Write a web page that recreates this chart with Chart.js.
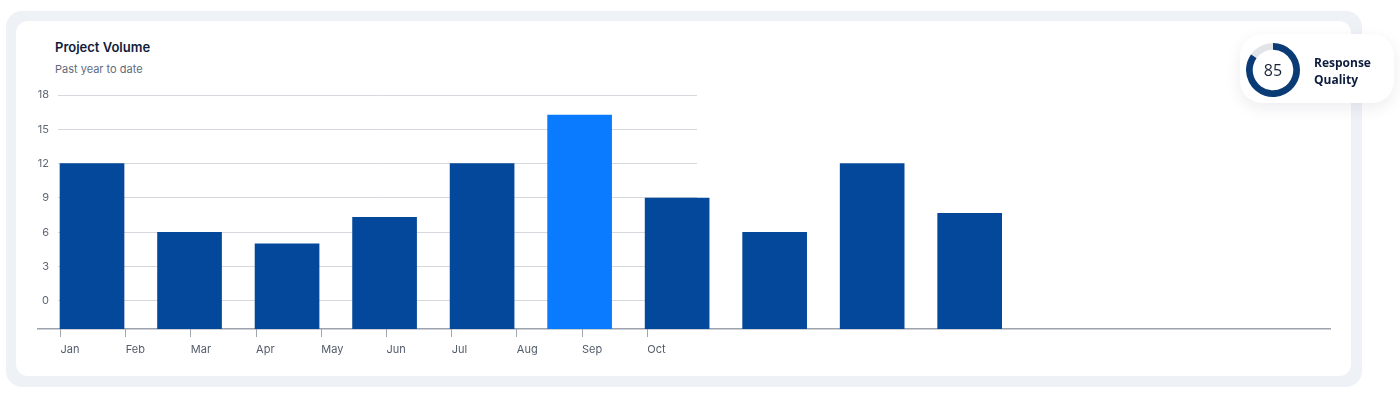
<!DOCTYPE html>
<html>
<head>
<meta charset="utf-8">
<script src="https://cdn.jsdelivr.net/npm/chart.js@4.4.1/dist/chart.umd.min.js"></script>
<style>
  html, body { margin: 0; padding: 0; background: #fff; width: 1400px; height: 402px; overflow: hidden; }
  .outer { position: absolute; left: 6px; top: 11px; width: 1356px; height: 376px; background: #eef1f6; border-radius: 16px; }
  .inner { position: absolute; left: 16px; top: 21px; width: 1335px; height: 355px; background: #fff; border-radius: 12px; }
  .title { position: absolute; left: 55px; top: 39px; font: 600 13px Inter, sans-serif; color: #0f1d3a; }
  .subtitle { position: absolute; left: 55px; top: 62px; font: 400 11px Inter, sans-serif; color: #5f6b7c; }
  .layer { position: absolute; left: 0; top: 0; height: 402px; }
  .badge { position: absolute; left: 1240px; top: 34px; width: 154px; height: 69px; background: #fff; border-radius: 22px; box-shadow: 0 5px 16px rgba(20, 30, 60, 0.08); }
  .donut { position: absolute; left: 1246px; top: 43px; width: 54px; height: 54px; }
  .score { position: absolute; left: 1246px; top: 43px; width: 54px; text-align: center; font: 400 16px/54px "Open Sans", sans-serif; color: #1b2437; }
  .label { position: absolute; left: 1314px; top: 54px; font: 700 12px/17px "Open Sans", sans-serif; color: #0d1b3e; }
</style>
</head>
<body>
<div class="outer"></div>
<div class="inner"></div>
<div class="title">Project Volume</div>
<div class="subtitle">Past year to date</div>
<div class="layer" style="width:700px"><canvas id="grid"></canvas></div>
<div class="layer" style="width:1400px"><canvas id="bars"></canvas></div>
<div class="badge"></div>
<div class="donut"><canvas id="quality"></canvas></div>
<div class="score">85</div>
<div class="label">Response<br>Quality</div>
<script>
const months = ['Jan', 'Feb', 'Mar', 'Apr', 'May', 'Jun', 'Jul', 'Aug', 'Sep', 'Oct'];
const volumes = [12, 6, 5, 7.3, 12, 16.25, 9, 6, 12, 7.65];
const yTicks = [0, 3, 6, 9, 12, 15, 18];
const highlightIndex = 5;
const qualityScore = 85;

const Y_MIN = -2.45;
const Y_MAX = 18;

Chart.defaults.animation = false;
Chart.defaults.font.family = 'Inter, sans-serif';

// grid + axis labels layer (narrow, sits under the bars)
new Chart(document.getElementById('grid'), {
    type: 'line',
    data: { datasets: [] },
    options: {
        responsive: true,
        maintainAspectRatio: false,
        layout: { padding: { left: 0, right: 3, top: 95, bottom: 0 } },
        plugins: { legend: { display: false }, tooltip: { enabled: false } },
        scales: {
            x: {
                type: 'linear',
                offset: false,
                min: -0.038,
                max: 9.763,
                afterBuildTicks: s => { s.ticks = months.map((m, i) => ({ value: i })); },
                afterFit: s => { s.height = 73; },
                ticks: {
                    align: 'start',
                    autoSkip: false,
                    maxRotation: 0,
                    padding: 6,
                    color: '#525c6a',
                    font: { size: 11 },
                    callback: v => months[v]
                },
                grid: { offset: false, drawOnChartArea: false, drawTicks: true, tickLength: 8, tickColor: '#a3a8b0', tickWidth: 1 },
                border: { display: false }
            },
            y: {
                min: Y_MIN,
                max: Y_MAX,
                afterBuildTicks: s => { s.ticks = yTicks.map(v => ({ value: v })); },
                afterFit: s => { s.width = 58; },
                ticks: { padding: 9, color: '#5f6774', font: { size: 11 } },
                grid: { color: '#d5d8dd', lineWidth: 1, drawTicks: false },
                border: { display: false }
            }
        }
    }
});

// bars layer (wide)
new Chart(document.getElementById('bars'), {
    type: 'bar',
    data: {
        datasets: [{
            data: volumes.map((v, i) => ({ x: i, y: v })),
            base: Y_MIN,
            barThickness: 64,
            backgroundColor: volumes.map((v, i) => i === highlightIndex ? '#0a7bff' : '#03489a'),
            borderWidth: 0
        }]
    },
    options: {
        responsive: true,
        maintainAspectRatio: false,
        layout: { padding: { left: 38, right: 70, top: 95, bottom: 73 } },
        plugins: { legend: { display: false }, tooltip: { enabled: false } },
        scales: {
            x: {
                type: 'linear',
                offset: false,
                min: -0.554,
                max: 12.695,
                ticks: { display: false },
                grid: { offset: false, drawOnChartArea: false, drawTicks: false },
                border: { display: true, color: '#9ca3ae', width: 1.5 },
                afterFit: s => { s.height = 0; }
            },
            y: { display: false, min: Y_MIN, max: Y_MAX }
        }
    }
});

// response quality ring
new Chart(document.getElementById('quality'), {
    type: 'doughnut',
    data: {
        datasets: [{
            data: [qualityScore, 100 - qualityScore],
            backgroundColor: ['#0b3b75', '#e2e4e8'],
            borderWidth: 0
        }]
    },
    options: {
        responsive: true,
        maintainAspectRatio: false,
        cutout: '75%',
        plugins: { legend: { display: false }, tooltip: { enabled: false } }
    }
});
</script>
</body>
</html>
